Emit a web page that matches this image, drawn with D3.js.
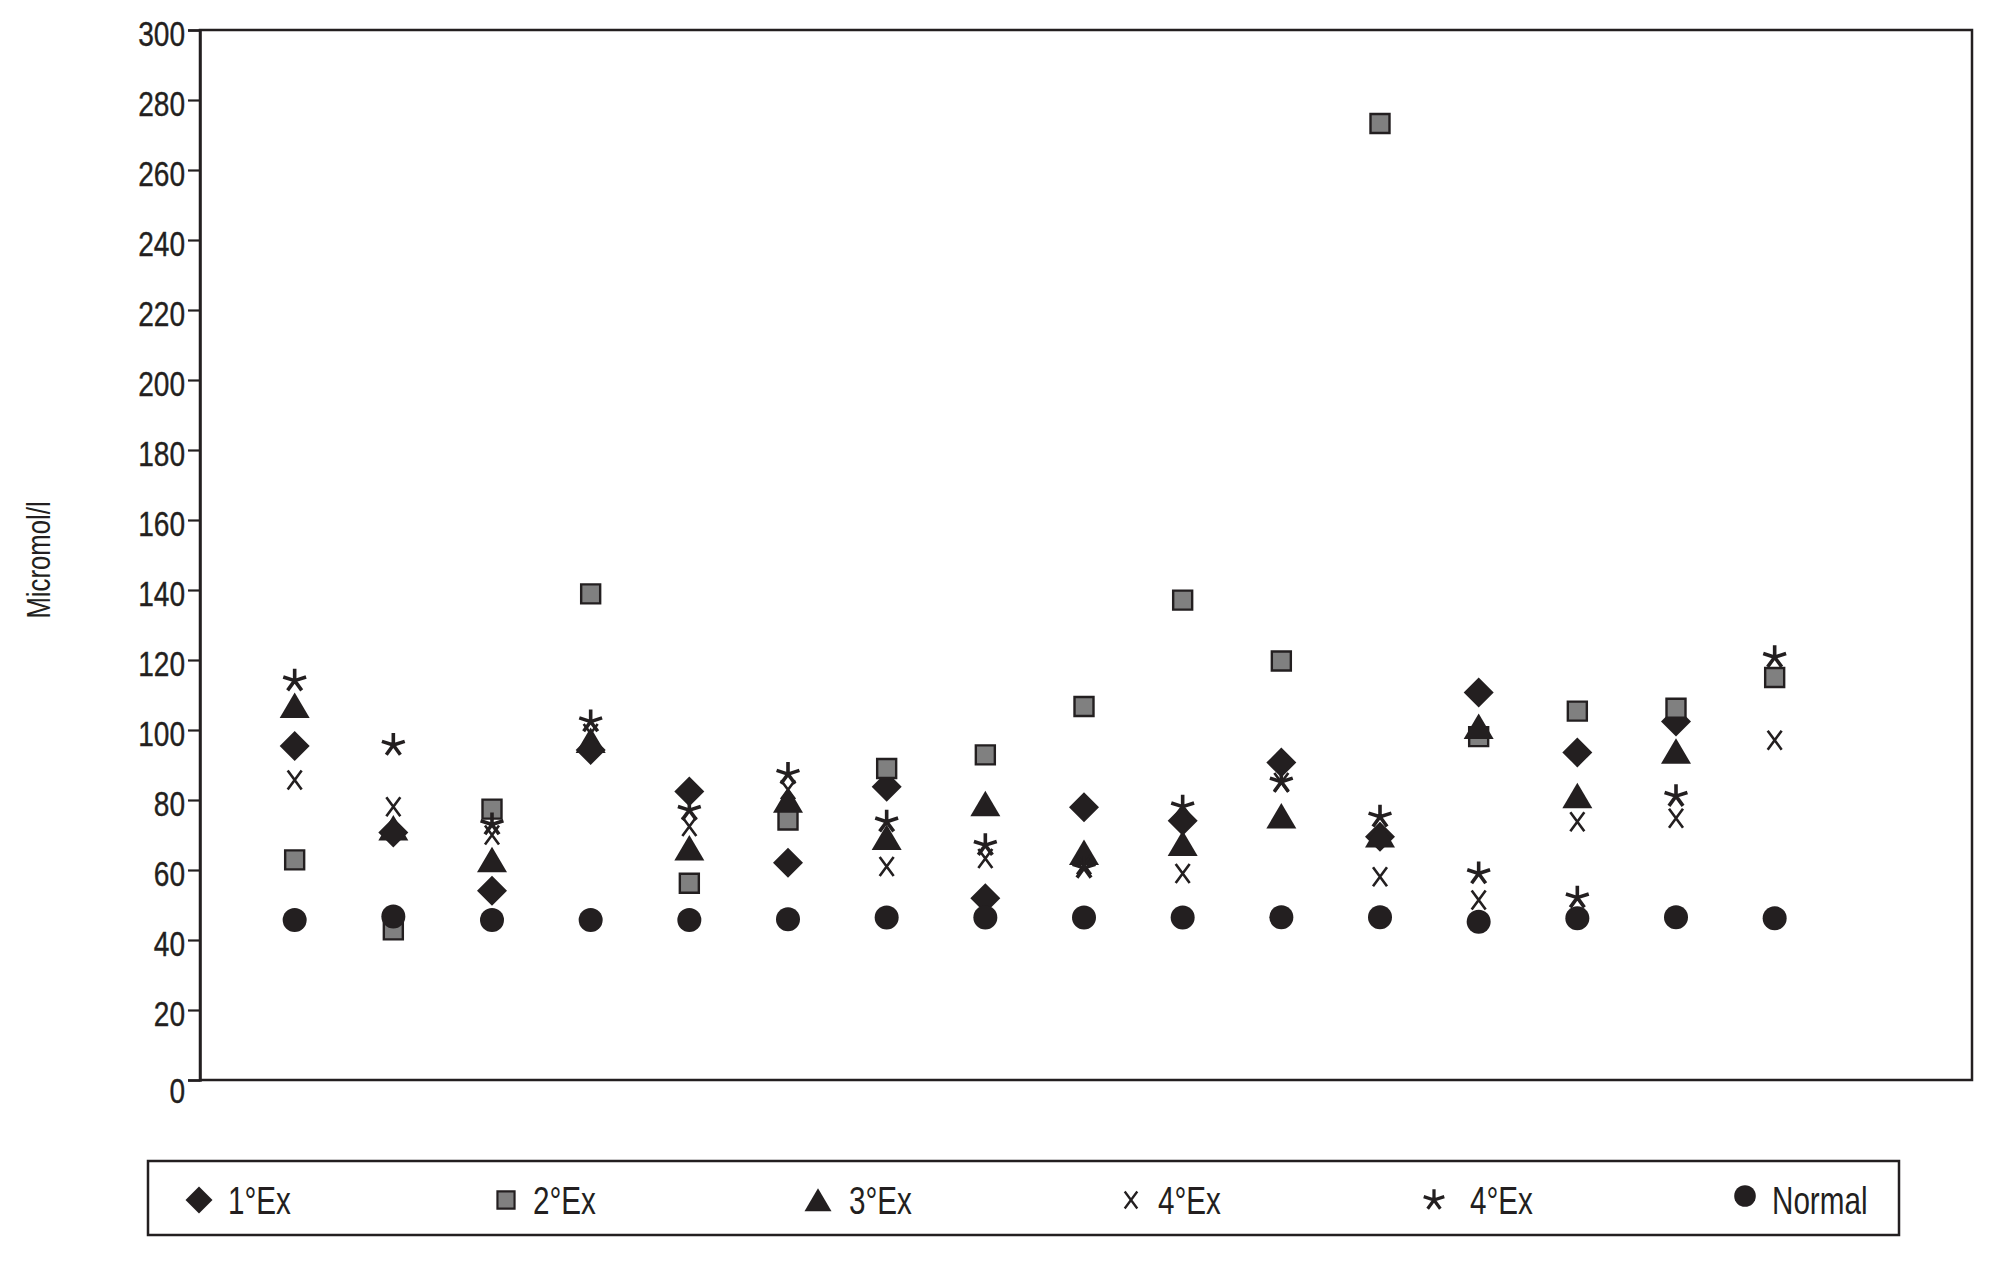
<!DOCTYPE html>
<html>
<head>
<meta charset="utf-8">
<script src="https://cdn.jsdelivr.net/npm/d3@7"></script>
<style>
  html, body { margin: 0; padding: 0; background: #ffffff; }
  svg { display: block; }
  text { font-family: "Liberation Sans", Arial, sans-serif; fill: #231f20; }
</style>
</head>
<body>
<svg id="chart" width="2016" height="1270"></svg>
<script>
// ---- data ----
const categories = [1, 2, 3, 4, 5, 6, 7, 8, 9, 10, 11, 12, 13, 14, 15, 16];
const ex1    = [95.4, 70.7, 54.1, 94.3, 82.4, 62.1, 83.8, 51.9, 77.9, 74.1, 90.7, 69.5, 110.7, 93.6, 102.4, null];
const ex2    = [62.9, 42.9, 77.4, 138.9, 56.2, 74.3, 89.0, 92.9, 106.7, 137.1, 119.7, 273.3, 98.1, 105.4, 106.2, 115.0];
const ex3    = [107, 72, 62.9, 97, 66.3, 79.9, 69.3, 78.9, 65.0, 67.6, 75.4, 70, 101.0, 81.2, 93.9, null];
const ex4x   = [85.7, 78.1, 70, 99, 72.4, 82.9, 61.0, 63.3, 61.5, 59.0, 85, 58.1, 51.4, 73.8, 74.8, 97.1];
const ex4st  = [114.1, 95.7, 73, 102.4, 77.1, 87.4, 73.8, 67.1, 60.6, 78.1, 85.2, 75.2, 59.0, 52.1, 81.1, 120.8];
const normal = [45.7, 46.7, 45.7, 45.7, 45.7, 45.9, 46.4, 46.4, 46.4, 46.4, 46.5, 46.5, 45.2, 46.2, 46.5, 46.2];
const seriesNames = ["1°Ex", "2°Ex", "3°Ex", "4°Ex", "4°Ex", "Normal"];
const seriesMarkers = ["diamond", "square", "triangle", "cross", "asterisk", "circle"];
const yTicks = [0, 20, 40, 60, 80, 100, 120, 140, 160, 180, 200, 220, 240, 260, 280, 300];
const yLabel = "Micromol/l";

const seriesValues = [ex1, ex2, ex3, ex4x, ex4st, normal];

// ---- layout ----
const svg = d3.select("#chart");
const plot = { left: 200, right: 1972, top: 30, bottom: 1080 };
const ink = "#231f20";
const squeeze = 0.78; // condensed lettering

const x = d3.scaleLinear().domain([0, 18]).range([plot.left - 4, plot.right]);
const y = d3.scaleLinear().domain([0, 300]).range([plot.bottom, plot.top]);

// frame
svg.append("rect")
  .attr("x", plot.left).attr("y", plot.top)
  .attr("width", plot.right - plot.left).attr("height", plot.bottom - plot.top)
  .attr("fill", "none").attr("stroke", ink).attr("stroke-width", 2.5);

// y axis
const yAxis = d3.axisLeft(y).tickValues(yTicks).tickSize(12).tickPadding(3).tickFormat(d3.format("d"));
const gy = svg.append("g").attr("transform", `translate(${plot.left},0)`).call(yAxis);
gy.select(".domain").attr("stroke", ink).attr("stroke-width", 2.5);
gy.selectAll(".tick line").attr("stroke", ink).attr("stroke-width", 2.2);
gy.selectAll(".tick text")
  .attr("font-size", 36)
  .attr("x", -15 / squeeze)
  .attr("dy", d => d === 0 ? "0.62em" : "0.42em")
  .attr("transform", `scale(${squeeze},1)`)
  .attr("stroke", ink).attr("stroke-width", 0.4)
  .style("font-family", '"Liberation Sans", Arial, sans-serif')
  .attr("fill", ink);

// y label
svg.append("text")
  .attr("transform", `translate(50,560) rotate(-90) scale(${squeeze},1)`)
  .attr("text-anchor", "middle")
  .attr("font-size", 33)
  .text(yLabel);

// ---- markers ----
function markerPath(type) {
  switch (type) {
    case "diamond": return "M0,-15L15,0L0,15L-15,0Z";
    case "square": return "M-9.5,-9.5L9.5,-9.5L9.5,9.5L-9.5,9.5Z";
    case "triangle": return "M0,-13L15,12.5L-15,12.5Z";
    case "circle": return d3.symbol(d3.symbolCircle, Math.PI * 12 * 12)();
    case "cross": return "M-7,-9.5L7,9.5M7,-9.5L-7,9.5";
    case "asterisk": {
      const r = 12;
      return [-90, -18, 54, 126, 198].map(a => {
        const t = a * Math.PI / 180;
        return `M0,0L${(r * Math.cos(t)).toFixed(2)},${(r * Math.sin(t)).toFixed(2)}`;
      }).join("");
    }
  }
}
function styleMarker(sel, type) {
  if (type === "square") {
    sel.attr("fill", "#808080").attr("stroke", ink).attr("stroke-width", 2.4);
  } else if (type === "cross") {
    sel.attr("fill", "none").attr("stroke", ink).attr("stroke-width", 2.6);
  } else if (type === "asterisk") {
    sel.attr("fill", "none").attr("stroke", ink).attr("stroke-width", 3.6);
  } else {
    sel.attr("fill", ink).attr("stroke", "none");
  }
}

seriesValues.forEach((vals, si) => {
  const type = seriesMarkers[si];
  const pts = categories.map((c, i) => ({ c, v: vals[i] })).filter(d => d.v != null);
  const g = svg.append("g").attr("class", "series s" + si);
  const m = g.selectAll("path").data(pts).enter().append("path")
    .attr("d", markerPath(type))
    .attr("transform", d => `translate(${x(d.c)},${y(d.v)})`);
  styleMarker(m, type);
});

// ---- legend ----
const legend = { x0: 148, x1: 1899, y0: 1161, y1: 1235 };
svg.append("rect")
  .attr("x", legend.x0).attr("y", legend.y0)
  .attr("width", legend.x1 - legend.x0).attr("height", legend.y1 - legend.y0)
  .attr("fill", "none").attr("stroke", ink).attr("stroke-width", 2.5);

const legendMarkerX = [199, 506, 818, 1131, 1434, 1745];
const legendTextX = [228, 533, 849, 1158, 1470, 1772];
const legendY = 1200;
seriesNames.forEach((name, i) => {
  const type = seriesMarkers[i];
  const scale = (type === "diamond" || type === "triangle") ? 0.9 : 0.9;
  const m = svg.append("path")
    .attr("d", markerPath(type))
    .attr("transform", `translate(${legendMarkerX[i]},${type === "circle" ? legendY - 4 : legendY}) scale(${scale})`);
  styleMarker(m, type);
  svg.append("text")
    .attr("transform", `translate(${legendTextX[i]},${legendY + 14}) scale(${squeeze},1)`)
    .attr("font-size", 38)
    .text(name);
});
</script>
</body>
</html>
